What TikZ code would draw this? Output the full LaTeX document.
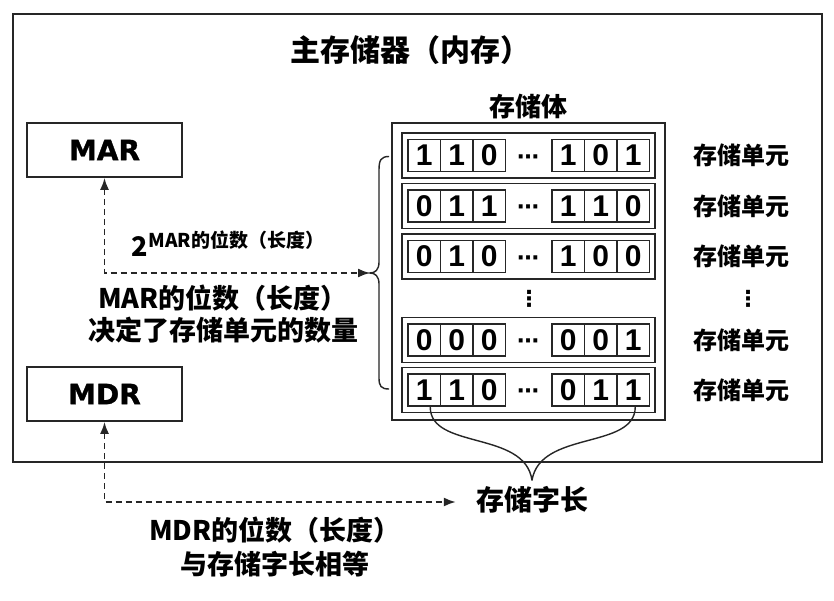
\documentclass[tikz,border=0pt]{standalone}
\usepackage{fontspec}
\setmainfont{Noto Sans CJK SC}
\newfontfamily\boxfont{DejaVu Sans}[FakeBold=1.2]
\newfontfamily\digitfont{Liberation Sans}
\newfontfamily\symfont{DejaVu Sans}
\usetikzlibrary{arrows.meta,calc}
\tikzset{
  frame/.style={draw=black!85,line width=1.8pt},
  regbox/.style={draw=black!85,line width=1.8pt,minimum width=155pt,minimum height=54pt,inner sep=0pt,
     font=\boxfont\bfseries\fontsize{28}{30}\selectfont},
  rowbox/.style={draw=black!85,line width=1.8pt,minimum width=253pt,minimum height=45pt,inner sep=0pt},
  cell/.style={draw=black!85,line width=1.8pt,minimum width=32.5pt,minimum height=32pt,inner sep=0pt,
     font=\digitfont\bfseries\fontsize{30}{30}\selectfont},
  lbl/.style={font=\bfseries\fontsize{24}{26}\selectfont,inner sep=0pt},
  txt/.style={font=\bfseries\fontsize{27}{32}\selectfont,inner sep=0pt,align=center},
  dotsstyle/.style={font=\symfont\bfseries\fontsize{22}{22}\selectfont,inner sep=0pt},
  dasharrow/.style={draw=black!85,line width=1.8pt,dash pattern=on 6pt off 4pt,
     {Latex[length=12pt,width=9pt]}-{Latex[length=12pt,width=9pt]}},
  bracestyle/.style={draw=black!85,line width=1.4pt},
}
\begin{document}
\begin{tikzpicture}[x=1pt,y=-1pt]
\useasboundingbox (0,0) rectangle (834,601);
\fill[white] (0,0) rectangle (834,601);
% outer frame
\draw[frame] (13,14) rectangle (822,462);
\node[font=\bfseries\fontsize{30}{32}\selectfont,inner sep=0pt] (title) at (410,50) {主存储器（内存）};
% registers
\node[regbox] (MAR) at (104.5,150) {MAR};
\node[regbox] (MDR) at (104.5,394) {MDR};
% storage body
\node[font=\bfseries\fontsize{26}{28}\selectfont,inner sep=0pt] (bodylbl) at (528,107) {存储体};
\draw[frame] (392,123) rectangle (665,420);
\foreach \r/\y/\a/\b/\c/\d/\e/\f in {1/155.5/1/1/0/1/0/1, 2/206/0/1/1/1/1/0, 3/256.5/0/1/0/1/0/0, 4/340/0/0/0/0/0/1, 5/390/1/1/0/0/1/1}{
  \node[rowbox] (row\r) at (528.5,\y) {};
  \node[cell] (c\r1) at (424.25,\y) {\a};
  \node[cell] (c\r2) at (456.75,\y) {\b};
  \node[cell] (c\r3) at (489.25,\y) {\c};
  \node[cell] (c\r4) at (568.25,\y) {\d};
  \node[cell] (c\r5) at (600.75,\y) {\e};
  \node[cell] (c\r6) at (633.25,\y) {\f};
  \node[dotsstyle] (dots\r) at (528,\y+4) {⋯};
  \node[lbl] (u\r) at (741,\y) {存储单元};
}
\node[dotsstyle] (vd1) at (529,299) {⋮};
\node[dotsstyle] (vd2) at (748,299) {⋮};
% left brace
\coordinate (lbtop) at ($(row1.west)+(-12,1)$);
\coordinate (lbbot) at ($(row5.west)+(-12,-1)$);
\coordinate (lbtip) at (370,273);
\draw[bracestyle] (lbtop) .. controls (381,156.5) and (379,160) .. (379,170) -- (379,262)
   .. controls (379,270) and (375,273) .. (lbtip)
   .. controls (375,273) and (379,276) .. (379,284) -- (379,378)
   .. controls (379,386) and (381,389) .. (lbbot);
% texts left
\node[inner sep=0pt] (pow) at (228,244) {{\bfseries\fontsize{27}{30}\selectfont 2}\raisebox{9pt}{\bfseries\fontsize{19}{20}\selectfont MAR的位数（长度）}};
\node[txt] (marnote) at (223,314) {MAR的位数（长度）\\决定了存储单元的数量};
% word length
\node[font=\bfseries\fontsize{28}{30}\selectfont,inner sep=0pt] (wordlen) at (532,500) {存储字长};
\coordinate (wbtip) at ($(wordlen.north)+(0,-6)$);
\draw[bracestyle] ($(c51.south)+(6,0)$) .. controls (430,450) and (525,430) .. (wbtip);
\draw[bracestyle] ($(c56.south)+(2,0)$) .. controls (635,450) and (540,430) .. (wbtip);
\node[txt,font=\bfseries\fontsize{27}{34}\selectfont] (mdrnote) at (275,547) {MDR的位数（长度）\\与存储字长相等};
% arrows
\draw[dasharrow] (MAR.south) |- (lbtip);
\draw[dasharrow] (MDR.south) |- ($(wordlen.west)+(-20,2)$);
\end{tikzpicture}
\end{document}
